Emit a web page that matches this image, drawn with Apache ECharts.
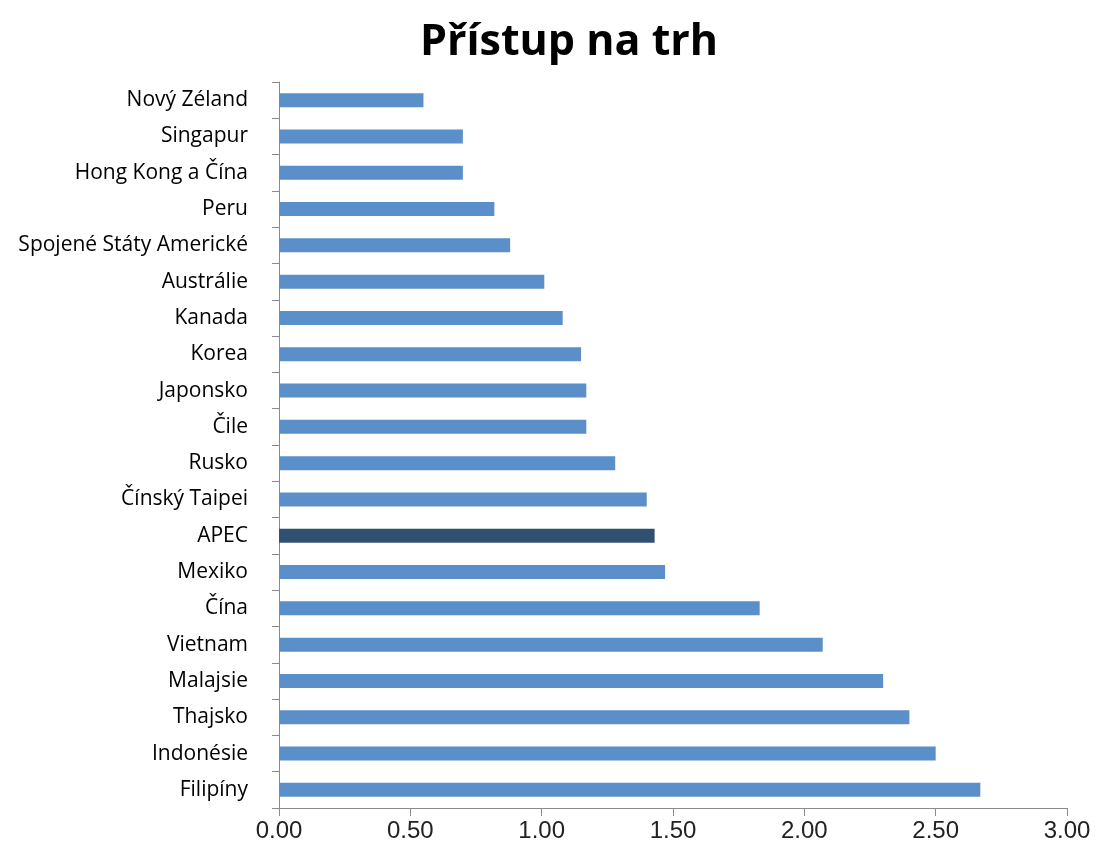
<!DOCTYPE html>
<html>
<head>
<meta charset="utf-8">
<script src="https://cdn.jsdelivr.net/npm/echarts@6/dist/echarts.min.js"></script>
<style>html,body{margin:0;padding:0;background:#fff;}#c{width:1096px;height:848px;}</style>
</head>
<body>
<div id="c"></div>
<script>
const categories = ["Nový Zéland","Singapur","Hong Kong a Čína","Peru","Spojené Státy Americké","Austrálie","Kanada","Korea","Japonsko","Čile","Rusko","Čínský Taipei","APEC","Mexiko","Čína","Vietnam","Malajsie","Thajsko","Indonésie","Filipíny"];
const values = [0.55,0.70,0.70,0.82,0.88,1.01,1.08,1.15,1.17,1.17,1.28,1.40,1.43,1.47,1.83,2.07,2.30,2.40,2.50,2.67];
const highlight = "APEC";
const xTicks = [0,0.5,1,1.5,2,2.5,3];

const chart = echarts.init(document.getElementById('c'), null, {renderer:'canvas'});
chart.setOption({
  animation:false,
  backgroundColor:'#ffffff',
  title:{text:'Přístup na trh',left:564,top:16,textAlign:'center',
    textStyle:{fontFamily:'Open Sans',fontWeight:'bold',fontSize:43,color:'#000'}},
  grid:{left:279,right:29,top:82,bottom:40,containLabel:false},
  xAxis:{type:'value',min:xTicks[0],max:xTicks[xTicks.length-1],interval:0.5,
    axisLine:{show:true,lineStyle:{color:'#8a8a8a',width:1}},
    axisTick:{show:true,length:8,lineStyle:{color:'#8a8a8a'}},
    splitLine:{show:false},
    axisLabel:{formatter:v=>v.toFixed(2),fontFamily:'Liberation Sans',fontSize:24,color:'#222',margin:11}},
  yAxis:{type:'category',data:categories,inverse:true,
    axisLine:{show:true,lineStyle:{color:'#8a8a8a',width:1}},
    axisTick:{show:true,length:7,alignWithLabel:false,lineStyle:{color:'#8a8a8a'}},
    axisLabel:{fontFamily:'Open Sans',fontSize:21,color:'#000',margin:31}},
  series:[{type:'bar',barWidth:14,
    data:values.map((v,i)=>({value:v,itemStyle:{color:categories[i]===highlight?'#2f5071':'#5b8fc9'}}))}]
});
</script>
</body>
</html>
